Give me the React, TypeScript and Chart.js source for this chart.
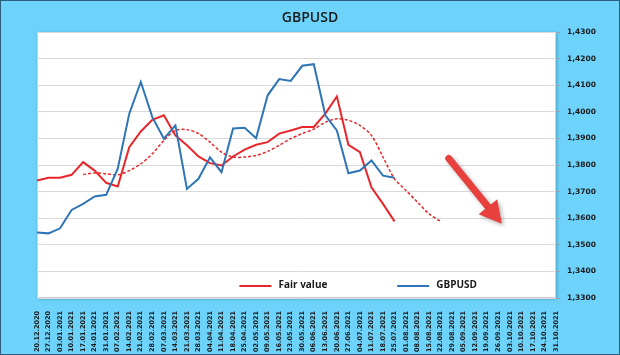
import React, { useEffect, useRef } from "react";
import { Chart, registerables } from "chart.js";
Chart.register(...registerables);

const categories = [
  "20.12.2020","27.12.2020","03.01.2021","10.01.2021","17.01.2021","24.01.2021","31.01.2021",
  "07.02.2021","14.02.2021","21.02.2021","28.02.2021","07.03.2021","14.03.2021","21.03.2021",
  "28.03.2021","04.04.2021","11.04.2021","18.04.2021","25.04.2021","02.05.2021","09.05.2021",
  "16.05.2021","23.05.2021","30.05.2021","06.06.2021","13.06.2021","20.06.2021","27.06.2021",
  "04.07.2021","11.07.2021","18.07.2021","25.07.2021","01.08.2021","08.08.2021","15.08.2021",
  "22.08.2021","29.08.2021","05.09.2021","12.09.2021","19.09.2021","26.09.2021","03.10.2021",
  "10.10.2021","17.10.2021","24.10.2021","31.10.2021",
];

const gbpusd = [
  1.3546, 1.3543, 1.3562, 1.3631, 1.3654, 1.3682, 1.3688, 1.3786, 1.3993, 1.4112, 1.3980,
  1.3899, 1.3949, 1.3710, 1.3748, 1.3829, 1.3773, 1.3937, 1.3940, 1.3901, 1.4062, 1.4123,
  1.4116, 1.4173, 1.4179, 1.3987, 1.3930, 1.3769, 1.3779, 1.3817, 1.3760, 1.3752,
];

const fairValue = [
  1.3742, 1.3752, 1.3752, 1.3763, 1.3811, 1.3779, 1.3733, 1.3719, 1.3867, 1.3926, 1.3970,
  1.3987, 1.3911, 1.3874, 1.3832, 1.3807, 1.3798, 1.3832, 1.3858, 1.3876, 1.3886, 1.3918,
  1.3930, 1.3943, 1.3943, 1.3993, 1.4058, 1.3876, 1.3848, 1.3716, 1.3654, 1.3588,
];

const fairValueAvg = [
  null, null, null, null,
  1.3764, 1.3770, 1.3767, 1.3763, 1.3779, 1.3804, 1.3842, 1.3892, 1.3930, 1.3933, 1.3918,
  1.3886, 1.3848, 1.3830, 1.3830, 1.3836, 1.3851, 1.3874, 1.3899, 1.3918, 1.3935, 1.3961,
  1.3974, 1.3968, 1.3949, 1.3911, 1.3830, 1.3748, 1.3704, 1.3660, 1.3616, 1.3588,
];

const yMin = 1.33;
const yMax = 1.43;
const yStep = 0.01;

// Arrow endpoints in data space: [category index, value]
const arrowFrom = [35.7, 1.3825];
const arrowTo = [40.3, 1.3579];

const titleText = "GBPUSD";
const legendItems = [
  { label: "Fair value", color: "#e8262a" },
  { label: "GBPUSD", color: "#2e75b6" },
];

const BG = "#6dd3fb";

const decorPlugin = {
  id: "decor",
  beforeDraw(chart: any) {
    const { ctx, chartArea: a, width, height } = chart;
    ctx.save();
    ctx.fillStyle = BG;
    ctx.fillRect(0, 0, width, height);
    ctx.strokeStyle = "#2f5f7f";
    ctx.lineWidth = 1;
    ctx.strokeRect(0.5, 0.5, width - 1, height - 1);
    // plot area with soft shadow
    ctx.save();
    ctx.shadowColor = "rgba(0,0,0,0.25)";
    ctx.shadowBlur = 3;
    ctx.shadowOffsetX = 1;
    ctx.shadowOffsetY = 1;
    ctx.fillStyle = "#ffffff";
    ctx.fillRect(a.left, a.top, a.right - a.left, a.bottom - a.top);
    ctx.restore();
    ctx.strokeStyle = "#d0d0d0";
    ctx.strokeRect(a.left + 0.5, a.top + 0.5, a.right - a.left - 1, a.bottom - a.top - 1);
    // title
    ctx.fillStyle = "#1a1a1a";
    ctx.font = "600 14px 'Open Sans'";
    ctx.textAlign = "center";
    ctx.textBaseline = "middle";
    ctx.fillText(titleText, width / 2, 18);
    ctx.restore();
  },
  afterDatasetsDraw(chart: any) {
    const { ctx, chartArea: a } = chart;
    const xs = chart.scales.x;
    const ys = chart.scales.y;
    ctx.save();
    // legend
    const ly = ys.getPixelForValue(1.3345);
    const w = a.right - a.left;
    const starts = [a.left + w * 0.39, a.left + w * 0.694];
    ctx.font = "bold 10px 'Open Sans'";
    ctx.textBaseline = "middle";
    ctx.textAlign = "left";
    legendItems.forEach((it, i) => {
      const sx = starts[i];
      ctx.strokeStyle = it.color;
      ctx.lineWidth = 2;
      ctx.beginPath();
      ctx.moveTo(sx, ly);
      ctx.lineTo(sx + 32, ly);
      ctx.stroke();
      ctx.fillStyle = "#1a1a1a";
      ctx.fillText(it.label, sx + 39, ly - 1);
    });
    // arrow
    const x1 = xs.getPixelForValue(arrowFrom[0]);
    const y1 = ys.getPixelForValue(arrowFrom[1]);
    const x2 = xs.getPixelForValue(arrowTo[0]);
    const y2 = ys.getPixelForValue(arrowTo[1]);
    const ang = Math.atan2(y2 - y1, x2 - x1);
    const headLen = 22;
    const headW = 12;
    const bx = x2 - headLen * Math.cos(ang);
    const by = y2 - headLen * Math.sin(ang);
    ctx.shadowColor = "rgba(0,0,0,0.3)";
    ctx.shadowBlur = 4;
    ctx.shadowOffsetX = 2;
    ctx.shadowOffsetY = 2;
    ctx.strokeStyle = "#e8403c";
    ctx.lineWidth = 7;
    ctx.lineCap = "round";
    ctx.beginPath();
    ctx.moveTo(x1, y1);
    ctx.lineTo(bx + 2 * Math.cos(ang), by + 2 * Math.sin(ang));
    ctx.stroke();
    ctx.fillStyle = "#e8403c";
    ctx.beginPath();
    ctx.moveTo(x2, y2);
    ctx.lineTo(bx + headW * Math.sin(ang), by - headW * Math.cos(ang));
    ctx.lineTo(bx - headW * Math.sin(ang), by + headW * Math.cos(ang));
    ctx.closePath();
    ctx.fill();
    ctx.restore();
  },
};

export default function App() {
  const ref = useRef<HTMLCanvasElement | null>(null);
  useEffect(() => {
    if (!ref.current) return;
    const chart = new Chart(ref.current, {
      type: "line",
      data: {
        labels: categories,
        datasets: [
          {
            label: "GBPUSD",
            data: gbpusd,
            borderColor: "#2e75b6",
            borderWidth: 2,
            pointRadius: 0,
            tension: 0,
          },
          {
            label: "Fair value",
            data: fairValue,
            borderColor: "#e8262a",
            borderWidth: 2,
            pointRadius: 0,
            tension: 0,
          },
          {
            label: "Fair value avg",
            data: fairValueAvg,
            borderColor: "#e8262a",
            borderWidth: 1.5,
            borderDash: [3, 2],
            pointRadius: 0,
            tension: 0.3,
          },
        ],
      },
      options: {
        responsive: false,
        animation: false,
        layout: { padding: { top: 32, left: 37, right: 0, bottom: 0 } },
        plugins: {
          legend: { display: false },
          tooltip: { enabled: false },
          title: { display: false },
        },
        scales: {
          x: {
            offset: false,
            grid: { display: false },
            border: { display: false },
            afterFit: (s: any) => {
              s.height = 57;
            },
            ticks: {
              autoSkip: false,
              maxRotation: 90,
              minRotation: 90,
              padding: 5,
              color: "#1a1a1a",
              font: { family: "DejaVu Sans", size: 6.5, weight: "bold" },
            },
          },
          y: {
            position: "right",
            min: yMin,
            max: yMax,
            afterFit: (s: any) => {
              s.width = 64;
            },
            grid: {
              color: "#d9d9d9",
              lineWidth: 1,
              drawTicks: true,
              tickLength: 4,
              tickColor: "#a0a0a0",
            },
            border: { display: false },
            ticks: {
              stepSize: yStep,
              padding: 7,
              color: "#1a1a1a",
              font: { family: "DejaVu Sans", size: 7.5, weight: "bold" },
              callback: (v: any) => Number(v).toFixed(4).replace(".", ","),
            },
          },
        },
      },
      plugins: [decorPlugin],
    });
    return () => chart.destroy();
  }, []);
  return (
    <div style={{ position: "absolute", left: 0, top: 0, width: 620, height: 355 }}>
      <canvas ref={ref} width={620} height={355} style={{ display: "block" }} />
    </div>
  );
}
